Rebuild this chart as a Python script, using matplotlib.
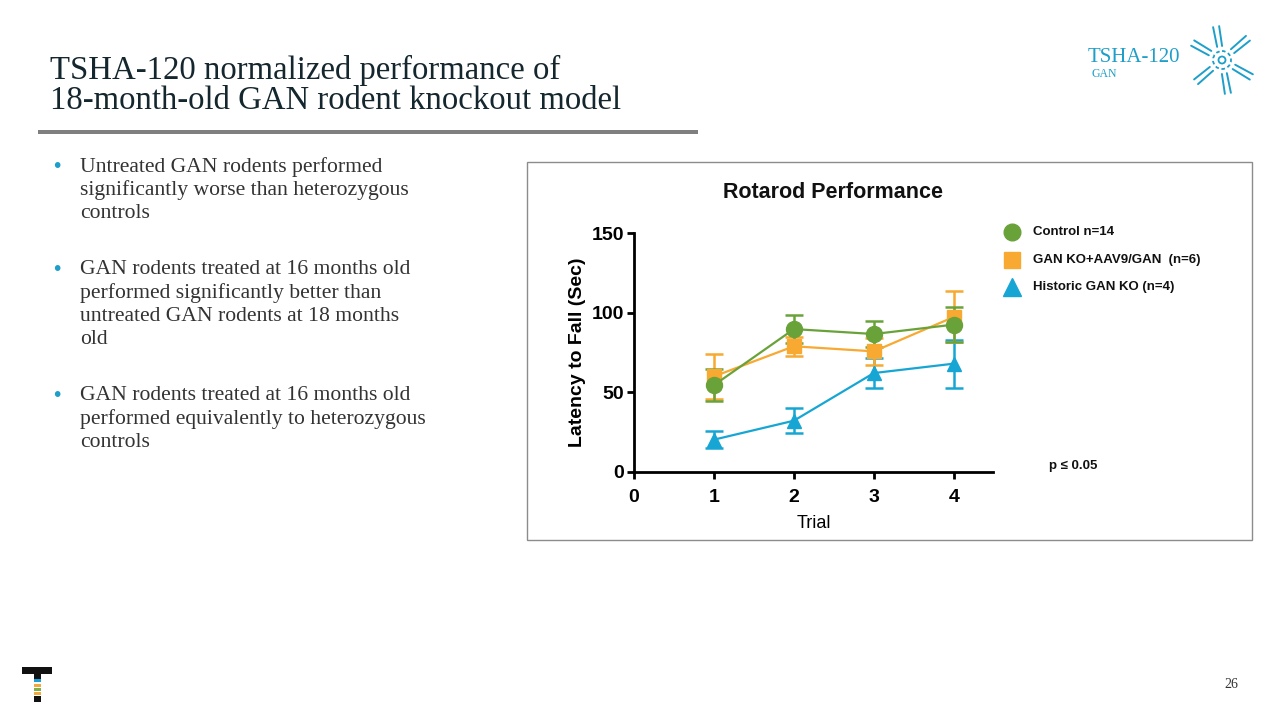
import matplotlib.pyplot as plt
from matplotlib.patches import Rectangle, Circle
import numpy as np

# chart data
TRIALS = [1, 2, 3, 4]
CONTROL = [54.5, 89.7, 86.6, 92.5]
CONTROL_ERR = [10, 9, 8, 11]
TREATED = [60, 78.9, 75.7, 97.3]
TREATED_ERR = [14, 6, 8.5, 16]
HISTORIC = [20.3, 32.2, 62.1, 68]
HISTORIC_ERR = [5.4, 8, 9.5, 15]

SERIES_LABELS = ["Control n=14", "GAN KO+AAV9/GAN  (n=6)", "Historic GAN KO (n=4)"]
X_TICKS = [0, 1, 2, 3, 4]
Y_TICKS = [0, 50, 100, 150]

TITLE_LINES = ["TSHA-120 normalized performance of",
               "18-month-old GAN rodent knockout model"]
BULLETS = [
    ["Untreated GAN rodents performed", "significantly worse than heterozygous", "controls"],
    ["GAN rodents treated at 16 months old", "performed significantly better than",
     "untreated GAN rodents at 18 months", "old"],
    ["GAN rodents treated at 16 months old", "performed equivalently to heterozygous",
     "controls"],
]

GREEN = "#6aa23a"
ORANGE = "#f7a931"
BLUE = "#17a6d4"
TEAL = "#1d9fc9"
NAVY = "#14262e"

W, H = 1280, 720
fig = plt.figure(figsize=(W / 100, H / 100), dpi=100)

# overlay in pixel coordinates for slide decorations
bg = fig.add_axes([0, 0, 1, 1])
bg.set_xlim(0, W)
bg.set_ylim(H, 0)
bg.axis("off")

serif = ["Liberation Serif", "DejaVu Serif"]
for i, line in enumerate(TITLE_LINES):
    bg.text(50, 70 + i * 31, line, fontsize=23.6, family=serif, color=NAVY,
            va="center", ha="left")
bg.add_patch(Rectangle((38, 130), 660, 4, color="#7f7f7f", lw=0))

y = 167
for block in BULLETS:
    bg.text(51, y, "•", fontsize=14, color=TEAL, va="center", ha="left")
    for line in block:
        bg.text(80, y, line, fontsize=15.6, family=serif, color="#333333",
                va="center", ha="left")
        y += 23.5
    y += 32

# logo top right
bg.text(1088, 57, "TSHA-120", fontsize=15, family=serif, color=TEAL,
        va="center", ha="left")
bg.text(1091, 74, "GAN", fontsize=8.5, family=serif, color=TEAL,
        va="center", ha="left")
cx, cy = 1222, 60
bg.add_patch(Circle((cx, cy), 9, fill=False, ec=TEAL, lw=1.3, ls=(0, (2, 1.5))))
bg.add_patch(Circle((cx, cy), 3.5, fill=False, ec=TEAL, lw=1.3))
for ang in np.deg2rad([40, 100, 150, 220, 280, 330]):
    for off in (-0.18, 0.18):
        r = np.array([14, 34])
        a = ang + off * np.array([1.0, 0.5])
        bg.plot(cx + r * np.cos(a), cy - r * np.sin(a), color=TEAL, lw=1.4,
                solid_capstyle="round")

# bottom-left logo
bg.add_patch(Rectangle((22, 667), 30, 7, color="#111111", lw=0))
bg.add_patch(Rectangle((34, 674), 7, 5, color="#111111", lw=0))
for yy, c in zip([679, 684, 688, 692], ["#1aa0d8", "#f2a93b", "#7fb04a", "#f2a93b"]):
    bg.add_patch(Rectangle((34, yy), 7, 3, color=c, lw=0))
bg.add_patch(Rectangle((34, 696), 7, 6, color="#111111", lw=0))
bg.text(1238, 685, "26", fontsize=10, family=serif, color="#333333",
        va="center", ha="right")

# chart frame
bg.add_patch(Rectangle((527, 162), 725, 378, fill=False, ec="#8c8c8c", lw=1))
bg.text(833, 193, "Rotarod Performance", fontsize=15.5, fontweight="bold",
        family="Liberation Sans", va="center", ha="center", color="#111111")

# legend
legend_markers = [("o", GREEN, 12), ("s", ORANGE, 11.5), ("^", BLUE, 13)]
for i, ((m, c, s), lab) in enumerate(zip(legend_markers, SERIES_LABELS)):
    yy = 232 + i * 27.5
    bg.plot([1012], [yy], marker=m, color=c, markersize=s, lw=0)
    bg.text(1033, yy, lab, fontsize=9.5, fontweight="bold", family="Liberation Sans",
            va="center", ha="left", color="#111111")
bg.text(1049, 466, "p ≤ 0.05", fontsize=9.5, fontweight="bold",
        family="Liberation Sans", va="center", ha="left", color="#111111")

# data axes
left, right, top, bottom = 634, 993, 233, 472
ax = fig.add_axes([left / W, 1 - bottom / H, (right - left) / W, (bottom - top) / H])
ax.patch.set_alpha(0)

ax.errorbar(TRIALS, HISTORIC, yerr=HISTORIC_ERR, color=BLUE, marker="^",
            markersize=10.5, lw=1.6, elinewidth=1.8, capsize=6.5, capthick=1.8)
ax.errorbar(TRIALS, TREATED, yerr=TREATED_ERR, color=ORANGE, marker="s",
            markersize=10, lw=1.6, elinewidth=1.8, capsize=6.5, capthick=1.8)
ax.errorbar(TRIALS, CONTROL, yerr=CONTROL_ERR, color=GREEN, marker="o",
            markersize=11.5, lw=1.6, elinewidth=1.8, capsize=6.5, capthick=1.8)

ax.set_xlim(0, 4.49)
ax.set_ylim(0, 150)
ax.set_xticks(X_TICKS)
ax.set_yticks(Y_TICKS)
for s in ("top", "right"):
    ax.spines[s].set_visible(False)
for s in ("left", "bottom"):
    ax.spines[s].set_linewidth(2)
ax.tick_params(width=2, length=5, labelsize=14)
ax.tick_params(axis="x", pad=7)
ax.tick_params(axis="y", pad=2)
for lab in ax.get_xticklabels() + ax.get_yticklabels():
    lab.set_fontweight("bold")
    lab.set_family("Liberation Sans")
ax.set_xlabel("Trial", fontsize=13, family="Liberation Sans", labelpad=7)
ax.set_ylabel("Latency to Fall (Sec)", fontsize=14, fontweight="bold",
              family="Liberation Sans", labelpad=4)

fig.savefig("out.png", dpi=100)
